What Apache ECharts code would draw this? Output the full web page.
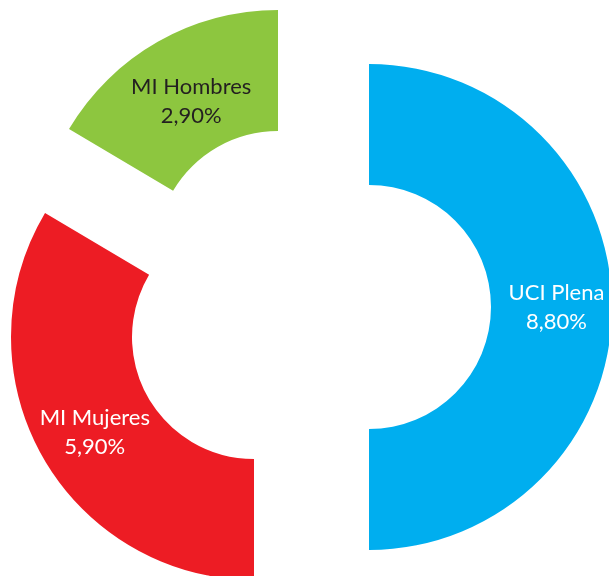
<!DOCTYPE html>
<html>
<head>
<meta charset="utf-8">
<script src="https://cdn.jsdelivr.net/npm/echarts@6/dist/echarts.min.js"></script>
<style>
  html, body { margin: 0; padding: 0; background: #fff; }
  #chart { width: 609px; height: 576px; }
</style>
</head>
<body>
<div id="chart"></div>
<script>
'use strict';
// datos del gráfico
var categorias = ['UCI Plena', 'MI Mujeres', 'MI Hombres'];
var valores = [8.8, 5.9, 2.9];
var colores = ['#00AEEF', '#ED1C24', '#8DC63F'];
var coloresTexto = ['#ffffff', '#ffffff', '#231F20'];

// cada porción separada con su propio centro (explosión)
var centros = [[369, 307], [254, 337], [278, 253]];
var desplazLabel = [[2, 0], [2, 4], [5, 10]];

function fmt(v) {
    return v.toFixed(2).replace('.', ',') + '%';
}

var series = categorias.map(function (nombre, i) {
    return {
        type: 'pie',
        name: nombre,
        center: centros[i],
        radius: [122, 243],
        startAngle: 90,
        clockwise: true,
        avoidLabelOverlap: false,
        silent: true,
        animation: false,
        labelLine: { show: false },
        data: categorias.map(function (c, j) {
            var propio = (i === j);
            return {
                name: c,
                value: valores[j],
                itemStyle: { color: propio ? colores[j] : 'rgba(0,0,0,0)' },
                label: {
                    show: propio,
                    position: 'inside',
                    offset: desplazLabel[j],
                    color: coloresTexto[j],
                    fontFamily: 'Lato',
                    fontSize: 22,
                    lineHeight: 29,
                    formatter: function (p) {
                        return p.name + '\n' + fmt(p.value);
                    }
                }
            };
        })
    };
});

var myChart = echarts.init(document.getElementById('chart'));
var option = {
    backgroundColor: '#ffffff',
    series: series
};
myChart.setOption(option);
</script>
</body>
</html>
